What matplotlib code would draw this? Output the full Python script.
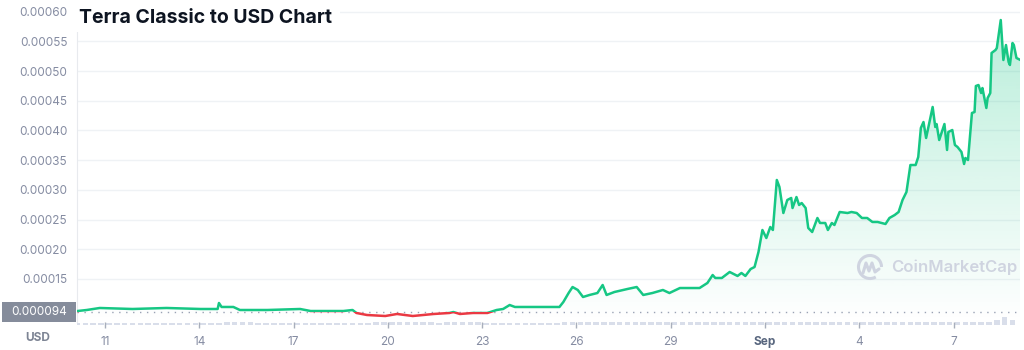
import matplotlib
matplotlib.use("Agg")
import matplotlib.pyplot as plt
import matplotlib.transforms as mtrans
import numpy as np
from matplotlib.colors import to_rgb
from matplotlib.patches import Rectangle, Arc
from matplotlib.lines import Line2D

# hours since 10 Aug 00:00, price in micro-USD
hours = [3, 10, 20, 45, 71, 97, 110, 111, 113, 122, 127, 148, 173, 181, 198, 206,
         213, 216, 224, 238, 247, 259, 275, 287, 290, 295, 305, 316, 323, 328, 333,
         337, 351, 364, 371, 374, 378, 381, 385, 389, 394, 400, 404, 407, 413, 423,
         430, 435, 442, 450, 455, 463, 471, 478, 484, 488, 490, 495, 501, 507, 510,
         513, 517, 520, 523, 526, 529, 532, 534, 537, 539, 542, 545, 548, 549, 552,
         554, 556, 559, 561, 564, 568, 570, 574, 576, 579, 581, 585, 591, 594, 598,
         602, 606, 610, 614, 620, 623, 627, 630, 633, 636, 639, 643, 645, 647, 649,
         651, 656, 658, 659, 661, 665, 667, 668, 671, 673, 675, 678, 680, 681, 683,
         686, 688, 689, 691, 693, 694, 697, 698, 700, 701, 704, 705, 708, 710, 712,
         714, 715, 717, 718, 720, 723]
price_uusd = [96.1, 97.8, 101.2, 99.5, 101.2, 99.5, 99.5, 109.6, 102.9, 102.9, 97.8,
              97.8, 99.5, 96.1, 96.1, 96.1, 97.8, 92.8, 89.4, 87.7, 91.1, 87.7, 91.1,
              92.8, 94.4, 91.1, 92.8, 92.8, 97.8, 99.5, 106.2, 102.9, 102.9, 102.9,
              102.9, 111.3, 126.4, 136.5, 131.5, 119.7, 123.1, 126.4, 139.9, 123.1,
              128.1, 133.2, 136.5, 123.1, 126.4, 131.5, 126.4, 134.8, 134.8, 134.8,
              143.3, 156.7, 151.7, 151.7, 161.8, 155.1, 160.1, 155.1, 166.8, 170.2,
              195.5, 232.5, 219.0, 237.5, 232.5, 316.7, 304.9, 261.1, 283.0, 286.4,
              269.5, 288.0, 274.6, 277.9, 269.5, 235.9, 229.1, 252.7, 244.3, 244.3,
              232.5, 244.3, 240.9, 262.8, 261.1, 262.8, 261.1, 252.7, 252.7, 246.0,
              246.0, 242.6, 252.7, 257.7, 262.8, 283.0, 296.5, 341.9, 341.9, 355.4,
              404.2, 414.3, 387.4, 439.6, 405.9, 410.9, 384.0, 410.9, 367.2, 397.5,
              400.8, 375.6, 372.2, 363.8, 343.6, 353.7, 350.3, 429.5, 431.1, 474.9,
              476.6, 463.1, 471.5, 437.9, 454.7, 463.1, 530.5, 535.5, 538.9, 586.0,
              518.7, 543.9, 515.3, 510.3, 547.3, 543.9, 522.1, 518.7]
ref_price = 0.000094

# relative volume, 6-hour buckets, one row per 5 days, Aug 10 .. Sep 8
volume = [1, 1, 1, 1,  1, 1, 1, 1,  1, 1, 1, 1,  1, 1, 1, 1,  1, 1, 1, 2,
          2, 2, 2, 1,  1, 1, 1, 1,  1, 1, 1, 1,  1, 1, 1, 1,  1, 1, 2, 2,
          2, 2, 2, 2,  2, 2, 1, 2,  2, 2, 2, 2,  1, 1, 1, 1,  1, 1, 1, 1,
          1, 1, 2, 2,  2, 2, 2, 2,  2, 2, 2, 2,  2, 2, 2, 2,  2, 2, 2, 2,
          2, 2, 2, 2,  2, 2, 2, 2,  2, 2, 2, 2,  2, 2, 2, 2,  2, 2, 2, 2,
          2, 2, 2, 2,  2, 2, 2, 2,  2, 2, 2, 2,  2, 2, 2, 2,  2, 3, 5, 3]

tick_hours = [24, 96, 168, 240, 312, 384, 456, 528, 600, 672]
tick_labels = ["11", "14", "17", "20", "23", "26", "29", "Sep", "4", "7"]
ytick_vals = [0.00015, 0.00020, 0.00025, 0.00030, 0.00035, 0.00040, 0.00045,
              0.00050, 0.00055, 0.00060]

GREEN = "#16c784"
RED = "#ea3943"
GREY = "#858ca2"

plt.rcParams['font.family'] = ['Inter', 'DejaVu Sans']

W, H = 1024, 350
fig = plt.figure(figsize=(W / 100, H / 100), dpi=100)
# pixel coordinates, origin top-left
pix = mtrans.Affine2D().scale(0.01, -0.01).translate(0, H / 100) + fig.dpi_scale_trans

x = np.array(hours, dtype=float)
y = np.array(price_uusd) * 1e-6
x0, x1 = 2.6, 722.7
y0, y1 = 77.6e-6, 619.7e-6

# volume strip
vax = fig.add_axes([77 / W, 1 - 324.5 / H, 943 / W, 8.5 / H])
vhours = 3 + 6 * np.arange(len(volume))
vax.bar(vhours, volume, width=4.2, color="#d9deea", linewidth=0)
vax.set_xlim(x0, x1)
vax.set_ylim(0, 6)
vax.axis("off")

ax = fig.add_axes([77 / W, 1 - 322 / H, 943 / W, 322 / H])
ax.patch.set_visible(False)

# gradient fill under the line
grad = np.zeros((256, 1, 4))
grad[..., :3] = to_rgb(GREEN)
grad[..., 3] = np.linspace(0, 0.32, 256)[:, None]
im = ax.imshow(grad, extent=[x0, x1, y0, y1], origin="lower", aspect="auto", zorder=1)
poly = ax.fill_between(x, y, y0, facecolor="none", edgecolor="none")
im.set_clip_path(poly.get_paths()[0], transform=ax.transData)

# line, green above the reference price, red below
gl, = ax.plot(x, y, color=GREEN, lw=1.8, zorder=4, solid_joinstyle="round")
gl.set_clip_path(Rectangle((x0, ref_price), x1 - x0, y1 - ref_price, transform=ax.transData))
rl, = ax.plot(x, y, color=RED, lw=1.8, zorder=4, solid_joinstyle="round")
rl.set_clip_path(Rectangle((x0, y0), x1 - x0, ref_price - y0, transform=ax.transData))

ax.axhline(ref_price, color="#9aa2b4", lw=1, linestyle=(0, (1, 4)), zorder=3)

ax.set_xlim(x0, x1)
ax.set_ylim(y0, y1)
ax.set_yticks(ytick_vals)
ax.set_yticklabels([f"{v:.5f}" for v in ytick_vals])
ax.grid(axis="y", color="#eff2f5", lw=1)
ax.set_axisbelow(True)
ax.tick_params(axis="y", length=0, pad=7, labelsize=8.5, labelcolor=GREY)
ax.set_xticks(tick_hours)
ax.set_xticklabels(tick_labels)
ax.tick_params(axis="x", length=4, width=1, color="#a8aebb", pad=6,
               labelsize=8.5, labelcolor=GREY)
for lab in ax.get_xticklabels():
    if lab.get_text() == "Sep":
        lab.set_fontweight("bold")
        lab.set_color("#58667e")
for s in ["top", "right", "bottom"]:
    ax.spines[s].set_visible(False)
ax.spines["left"].set_color("#e8eaee")

# title with white backing
fig.add_artist(Rectangle((72, 0), 268, 32, transform=pix, facecolor="white",
                         edgecolor="none", zorder=5))
fig.text(79, 18, "Terra Classic to USD Chart", transform=pix, fontsize=14,
         fontweight="bold", color="#0d1421", va="center", ha="left", zorder=6)

# current price tag and currency
fig.add_artist(Rectangle((2, 302), 74, 19.5, transform=pix, facecolor="#858c9b",
                         edgecolor="none", zorder=5))
fig.text(39, 312, "0.000094", transform=pix, fontsize=8.5, color="white",
         ha="center", va="center", zorder=6)
fig.text(38, 338, "USD", transform=pix, fontsize=8.5, fontweight="bold",
         color="#7d8494", ha="center", va="center")

# watermark
WM = "#cfd4e0"
fig.add_artist(Arc((870, 267), 23, 23, theta1=60, theta2=360, transform=pix,
                   color=WM, lw=2.2, zorder=2))
fig.add_artist(Line2D([863, 866, 869, 872, 875, 879], [273, 263, 271, 263, 272, 269],
                      transform=pix, color=WM, lw=2.2, zorder=2,
                      solid_joinstyle="round", solid_capstyle="round"))
fig.text(891, 267, "CoinMarketCap", transform=pix, fontsize=12, fontweight="semibold",
         color=WM, ha="left", va="center", zorder=2)

fig.savefig("out.png", dpi=100, facecolor="white")
